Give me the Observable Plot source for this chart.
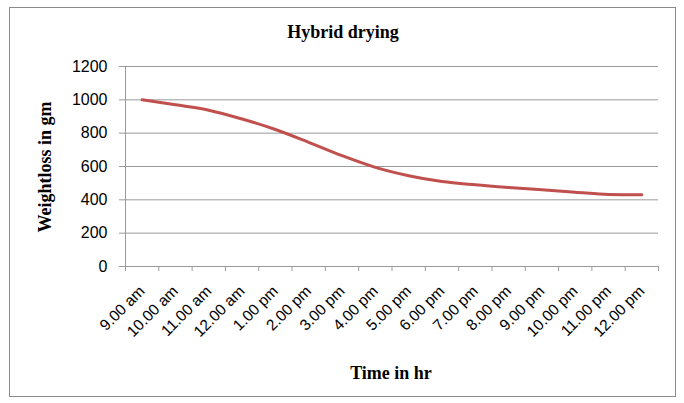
<!DOCTYPE html>
<html>
<head>
<meta charset="utf-8">
<script src="https://cdn.jsdelivr.net/npm/d3@7"></script>
<script src="https://cdn.jsdelivr.net/npm/@observablehq/plot@0.6"></script>
<style>
  body { margin: 0; background: #fff; }
  #wrap { position: relative; width: 684px; height: 403px; overflow: hidden; background: #fff; }
  #frame { position: absolute; left: 9px; top: 7px; width: 667px; height: 390px; border: 1px solid #8a8a8a; box-sizing: border-box; }
  .lbl { position: absolute; font-family: "Liberation Serif", "DejaVu Serif", serif; font-weight: bold; color: #000; white-space: nowrap; }
  #title { left: 9px; width: 668px; top: 22px; text-align: center; font-size: 18px; }
  #ylab { left: 45px; top: 167px; font-size: 18px; transform: translate(-50%, -50%) rotate(-90deg); }
  #xlab { left: 391px; top: 363px; font-size: 18px; transform: translateX(-50%); }
  #chart { position: absolute; left: 0; top: 0; }
</style>
</head>
<body>
<div id="wrap">
  <div id="frame"></div>
  <div id="chart"></div>
  <div class="lbl" id="title">Hybrid drying</div>
  <div class="lbl" id="ylab">Weightloss in gm</div>
  <div class="lbl" id="xlab">Time in hr</div>
</div>
<script>
const times = ["9.00 am","10.00 am","11.00 am","12.00 am","1.00 pm","2.00 pm","3.00 pm","4.00 pm",
               "5.00 pm","6.00 pm","7.00 pm","8.00 pm","9.00 pm","10.00 pm","11.00 pm","12.00 pm"];
const weightLoss = [1000, 970, 938, 885, 822, 745, 665, 595, 545, 510, 490, 474, 460, 446, 432, 430];
const yTicks = [0, 200, 400, 600, 800, 1000, 1200];

const data = times.map((t, i) => ({time: t, idx: i + 0.5, value: weightLoss[i]}));

const chart = Plot.plot({
  width: 684,
  height: 403,
  marginLeft: 125,
  marginRight: 26,
  marginTop: 66,
  marginBottom: 137,
  style: {fontFamily: "Liberation Sans, Arial, sans-serif", background: "transparent", color: "#000"},
  x: {type: "linear", domain: [0, times.length]},
  y: {domain: [0, 1200]},
  marks: [
    Plot.gridY(yTicks.slice(1), {stroke: "#9a9a9a", strokeOpacity: 1, strokeWidth: 1}),
    Plot.axisY(yTicks, {tickSize: 6, tickPadding: 12, fontSize: 16, stroke: "#9a9a9a", tickFormat: d => String(d), label: null}),
    Plot.axisX(d3.range(times.length + 1), {tickSize: 5, stroke: "#9a9a9a", tickFormat: () => "", label: null}),
    Plot.axisX(data.map(d => d.idx), {tickSize: 0, tickPadding: 22, tickRotate: -45, fontSize: 15.5,
      tickFormat: d => times[Math.floor(d)], label: null}),
    Plot.ruleX([0], {stroke: "#9a9a9a"}),
    Plot.ruleY([0], {stroke: "#9a9a9a"}),
    Plot.line(data, {x: "idx", y: "value", stroke: "#c0504d", strokeWidth: 3, curve: "monotone-x"})
  ]
});
document.getElementById("chart").appendChild(chart);
</script>
</body>
</html>
